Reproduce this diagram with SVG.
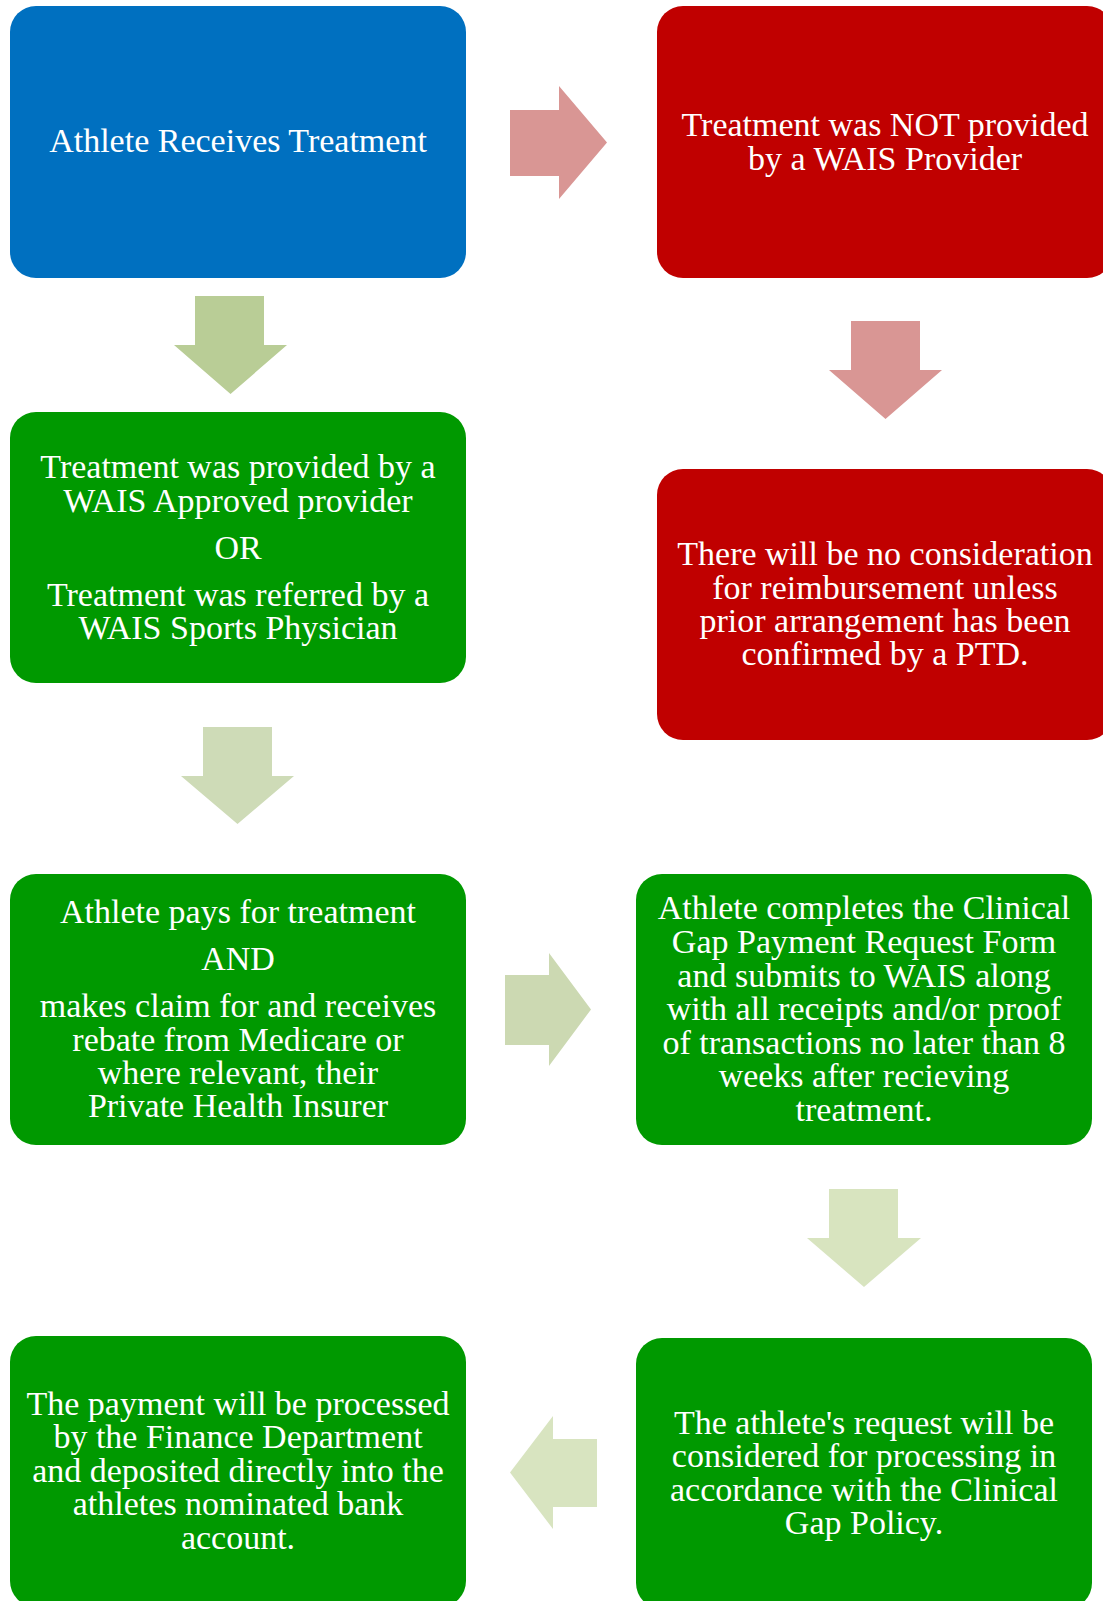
<svg xmlns="http://www.w3.org/2000/svg" width="1103" height="1601" viewBox="0 0 1103 1601">
<style>
.box{stroke:none}
.blue{fill:#0070C0}
.red{fill:#C00000}
.green{fill:#009900}
.t{font-family:"Liberation Serif","Times New Roman",serif;font-size:34px;fill:#FFFFFF;text-anchor:middle}
</style>
<rect width="1103" height="1601" fill="#FFFFFF"/>
<g id="connectors">
<polygon id="arrow-1" points="510,110 559,110 559,86 607,142.5 559,199 559,176 510,176" fill="#D99694"/>
<polygon id="arrow-2" points="195,296 264,296 264,345 287,345 230.5,394 174,345 195,345" fill="#B9CD96"/>
<polygon id="arrow-3" points="851,321 920,321 920,370 942,370 885.5,419 829,370 851,370" fill="#D99694"/>
<polygon id="arrow-4" points="203,727 272,727 272,776 294,776 237.5,824 181,776 203,776" fill="#CEDBB7"/>
<polygon id="arrow-5" points="505,975 549,975 549,953 591,1009.5 549,1066 549,1045 505,1045" fill="#CCD9B2"/>
<polygon id="arrow-6" points="829,1189 898,1189 898,1238 921,1238 864,1287 807,1238 829,1238" fill="#D8E4BF"/>
<polygon id="arrow-7" points="597,1439 553,1439 553,1416 510,1472.5 553,1529 553,1507 597,1507" fill="#D8E4C0"/>
</g>
<g id="node-receives">
<rect class="box blue" x="10" y="6" width="456" height="272" rx="26"/>
<text class="t" x="238" y="152">Athlete Receives Treatment</text>
</g>
<g id="node-not-provided">
<rect class="box red" x="657" y="6" width="456" height="272" rx="26"/>
<text class="t" x="885" y="136">Treatment was NOT provided</text>
<text class="t" x="885" y="170">by a WAIS Provider</text>
</g>
<g id="node-provided">
<rect class="box green" x="10" y="412" width="456" height="271" rx="26"/>
<text class="t" x="238" y="478">Treatment was provided by a</text>
<text class="t" x="238" y="512">WAIS Approved provider</text>
<text class="t" x="238" y="559">OR</text>
<text class="t" x="238" y="606">Treatment was referred by a</text>
<text class="t" x="238" y="639">WAIS Sports Physician</text>
</g>
<g id="node-no-consideration">
<rect class="box red" x="657" y="469" width="456" height="271" rx="26"/>
<text class="t" x="885" y="565">There will be no consideration</text>
<text class="t" x="885" y="599">for reimbursement unless</text>
<text class="t" x="885" y="632">prior arrangement has been</text>
<text class="t" x="885" y="665">confirmed by a PTD.</text>
</g>
<g id="node-pays">
<rect class="box green" x="10" y="874" width="456" height="271" rx="26"/>
<text class="t" x="238" y="923">Athlete pays for treatment</text>
<text class="t" x="238" y="970">AND</text>
<text class="t" x="238" y="1017">makes claim for and receives</text>
<text class="t" x="238" y="1051">rebate from Medicare or</text>
<text class="t" x="238" y="1084">where relevant, their</text>
<text class="t" x="238" y="1117">Private Health Insurer</text>
</g>
<g id="node-completes-form">
<rect class="box green" x="636" y="874" width="456" height="271" rx="26"/>
<text class="t" x="864" y="919">Athlete completes the Clinical</text>
<text class="t" x="864" y="953">Gap Payment Request Form</text>
<text class="t" x="864" y="987">and submits to WAIS along</text>
<text class="t" x="864" y="1020">with all receipts and/or proof</text>
<text class="t" x="864" y="1054">of transactions no later than 8</text>
<text class="t" x="864" y="1087">weeks after recieving</text>
<text class="t" x="864" y="1121">treatment.</text>
</g>
<g id="node-payment-processed">
<rect class="box green" x="10" y="1336" width="456" height="271" rx="26"/>
<text class="t" x="238" y="1415">The payment will be processed</text>
<text class="t" x="238" y="1448">by the Finance Department</text>
<text class="t" x="238" y="1482">and deposited directly into the</text>
<text class="t" x="238" y="1515">athletes nominated bank</text>
<text class="t" x="238" y="1549">account.</text>
</g>
<g id="node-request-considered">
<rect class="box green" x="636" y="1338" width="456" height="271" rx="26"/>
<text class="t" x="864" y="1434">The athlete's request will be</text>
<text class="t" x="864" y="1467">considered for processing in</text>
<text class="t" x="864" y="1501">accordance with the Clinical</text>
<text class="t" x="864" y="1534">Gap Policy.</text>
</g>
</svg>
